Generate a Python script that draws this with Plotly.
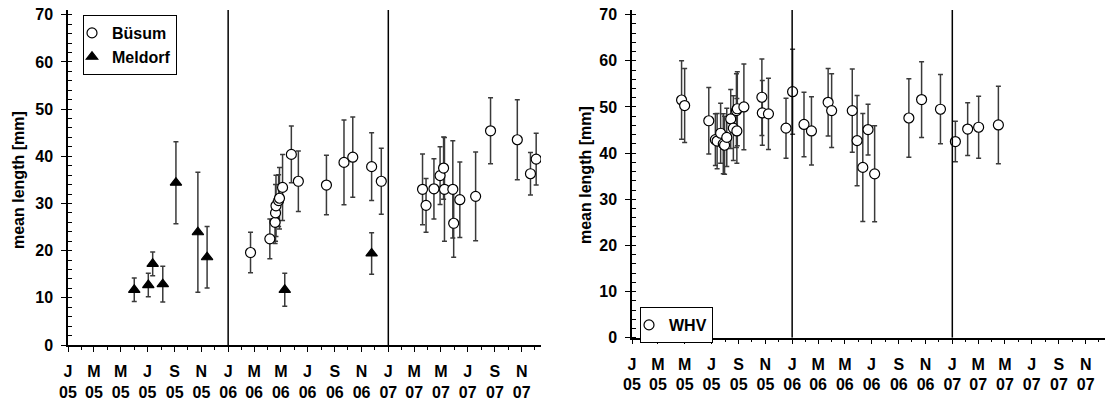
import plotly.graph_objects as go

# ---------------- data ----------------
# Left panel: Büsum (open circles)
busum_dates = ["2006-02-21", "2006-04-06", "2006-04-18", "2006-04-19", "2006-04-20",
               "2006-04-26", "2006-04-28", "2006-05-05", "2006-05-25", "2006-06-10",
               "2006-08-13", "2006-09-22", "2006-10-12", "2006-11-24", "2006-12-16",
               "2007-03-20", "2007-03-28", "2007-04-15", "2007-04-29", "2007-05-07",
               "2007-05-09", "2007-05-28", "2007-05-30", "2007-06-13", "2007-07-19",
               "2007-08-22", "2007-10-22", "2007-11-21", "2007-12-04"]
busum_mean = [19.6, 22.5, 26.0, 28.0, 29.5, 30.6, 31.1, 33.4, 40.4, 34.7,
              33.9, 38.7, 39.8, 37.8, 34.7,
              33.0, 29.6, 33.1, 35.9, 37.5, 33.0, 33.0, 25.8, 30.8, 31.5,
              45.4, 43.5, 36.3, 39.4]
busum_err = [4.3, 4.2, 4.5, 6.0, 6.5, 5.5, 6.5, 7.0, 6.0, 6.4,
             6.3, 9.0, 8.5, 7.2, 7.0,
             7.5, 5.7, 6.4, 6.1, 6.6, 11.0, 10.3, 7.2, 8.0, 9.4,
             7.0, 8.5, 4.5, 5.5]

# Left panel: Meldorf (filled triangles)
meldorf_dates = ["2005-06-01", "2005-07-03", "2005-07-13", "2005-08-05", "2005-09-04",
                 "2005-10-24", "2005-11-14", "2006-05-10", "2006-11-24"]
meldorf_mean = [11.7, 12.7, 17.2, 12.9, 34.4, 23.9, 18.6, 11.7, 19.4]
meldorf_err = [2.5, 2.5, 2.5, 3.8, 8.7, 12.7, 6.5, 3.5, 4.4]

# Right panel: WHV (open circles)
whv_dates = ["2005-04-24", "2005-05-01", "2005-06-25", "2005-07-10", "2005-07-14",
             "2005-07-22", "2005-07-28", "2005-07-31", "2005-08-05", "2005-08-14",
             "2005-08-20", "2005-08-27", "2005-08-28", "2005-08-29", "2005-09-13",
             "2005-10-24", "2005-10-25", "2005-11-08", "2005-12-18", "2006-01-02",
             "2006-01-28", "2006-02-14", "2006-03-24", "2006-04-01", "2006-05-18",
             "2006-05-29", "2006-06-11", "2006-06-23", "2006-07-08", "2006-09-24",
             "2006-10-23", "2006-12-05", "2007-01-08", "2007-02-05", "2007-03-02",
             "2007-04-16"]
whv_mean = [51.5, 50.3, 47.0, 42.9, 42.6, 44.3, 42.0, 41.7, 43.4, 47.4,
            45.4, 49.2, 44.8, 49.6, 50.0,
            52.1, 48.7, 48.5, 45.4, 53.3,
            46.2, 44.8, 51.0, 49.2, 49.2, 42.7, 36.9, 45.1, 35.5, 47.6,
            51.6, 49.5, 42.5, 45.2, 45.6, 46.1]
whv_err = [8.5, 8.0, 7.2, 5.6, 6.0, 6.5, 6.5, 6.3, 6.3, 6.4,
           7.0, 8.0, 7.0, 8.0, 9.3,
           8.3, 7.0, 7.7, 6.5, 9.2,
           7.0, 7.4, 7.3, 8.0, 9.0, 9.8, 11.7, 5.5, 10.4, 8.5,
           8.2, 7.5, 4.4, 5.7, 6.7, 8.4]

month_letters = ["J", "M", "M", "J", "S", "N"]
years = ["05", "06", "07"]
y_ticks = [0, 10, 20, 30, 40, 50, 60, 70]
y_label = "mean length [mm]"
# ---------------------------------------

W, H = 1105, 401
FONT = "Liberation Sans, Arial, sans-serif"
FS = 16

tickvals, ticktext, minorvals = [], [], []
for yy in years:
    for mi, ml in enumerate(month_letters):
        tickvals.append(f"20{yy}-{2*mi+1:02d}-01")
        ticktext.append(f"<b>{ml}</b><br><b>{yy}</b>")
    for m in range(1, 13):
        minorvals.append(f"20{yy}-{m:02d}-01")

fig = go.Figure()
err_color = "#3a3a3a"


def add_series(xs, ys, es, name, xa, ya, symbol, fill, legend, size):
    fig.add_trace(go.Scatter(
        x=xs, y=ys, mode="markers", name=f"<b>{name}</b>", xaxis=xa, yaxis=ya,
        legend=legend,
        marker=dict(symbol=symbol, size=size, color=fill,
                    line=dict(color="black", width=1.2)),
        error_y=dict(type="data", array=es, visible=True, color=err_color,
                     thickness=1.5, width=2.5),
    ))


add_series(busum_dates, busum_mean, busum_err, "Büsum", "x", "y", "circle", "white", "legend", 10)
add_series(meldorf_dates, meldorf_mean, meldorf_err, "Meldorf", "x", "y", "triangle-up", "black", "legend", 10)
add_series(whv_dates, whv_mean, whv_err, "WHV", "x2", "y2", "circle", "white", "legend2", 10)

xr = ["2005-01-01", "2007-12-15"]
left_dom = [68 / W, 541 / W]
right_dom = [632 / W, 1.0]
ytop = (H - 10) / H
tickfont = dict(family=FONT, size=FS, color="black")


def xaxis_cfg(dom, anchor):
    return dict(domain=dom, anchor=anchor, type="date", range=xr, automargin=False,
                tickmode="array", tickvals=tickvals, ticktext=ticktext,
                ticks="outside", ticklen=5, tickwidth=1.2, tickcolor="black",
                minor=dict(tickvals=minorvals, ticks="outside", ticklen=3,
                           tickwidth=1.2, tickcolor="black"),
                showline=True, linecolor="black", linewidth=1.5,
                showgrid=False, zeroline=False,
                tickfont=tickfont, ticklabelstandoff=6)


def yaxis_cfg(dom, anchor):
    return dict(domain=dom, anchor=anchor, range=[0, 71], automargin=False,
                tickmode="array", tickvals=y_ticks,
                ticktext=[f"<b>{v}</b>" for v in y_ticks],
                ticks="outside", ticklen=5, tickwidth=1.2, tickcolor="black",
                minor=dict(dtick=2, tick0=0, ticks="inside", ticklen=4, tickwidth=1,
                           tickcolor="black"),
                showline=True, linecolor="black", linewidth=1.5,
                showgrid=False, zeroline=False,
                tickfont=tickfont, ticklabelstandoff=5)


legend_common = dict(xanchor="left", yanchor="top", bordercolor="black",
                     borderwidth=1, bgcolor="white", itemwidth=30,
                     indentation=-12, tracegroupgap=0,
                     font=dict(family=FONT, size=FS, color="black"))

fig.update_layout(
    width=W, height=H,
    margin=dict(l=0, r=0, t=0, b=0),
    paper_bgcolor="white", plot_bgcolor="white",
    font=dict(family=FONT, color="black"),
    xaxis=xaxis_cfg(left_dom, "y"),
    yaxis=yaxis_cfg([(H - 345) / H, ytop], "x"),
    xaxis2=xaxis_cfg(right_dom, "y2"),
    yaxis2=yaxis_cfg([(H - 337.7) / H, ytop], "x2"),
    showlegend=True,
    legend=dict(x=83 / W, y=(H - 15) / H, **legend_common),
    legend2=dict(x=640 / W, y=(H - 307) / H, **legend_common),
)

# y-axis titles
for xc, yc in ((18, 180), (585, 175)):
    fig.add_annotation(text=f"<b>{y_label}</b>", xref="paper", yref="paper",
                       x=xc / W, y=(H - yc) / H, xanchor="center", yanchor="middle",
                       textangle=-90, showarrow=False,
                       font=dict(family=FONT, size=FS, color="black"))

# vertical year separators
for xa, ya in (("x", "y"), ("x2", "y2")):
    for d in ("2006-01-01", "2007-01-01"):
        fig.add_shape(type="line", xref=xa, yref=ya, x0=d, x1=d, y0=0, y1=71,
                      line=dict(color="black", width=1.5))

fig.write_html("out.html")
